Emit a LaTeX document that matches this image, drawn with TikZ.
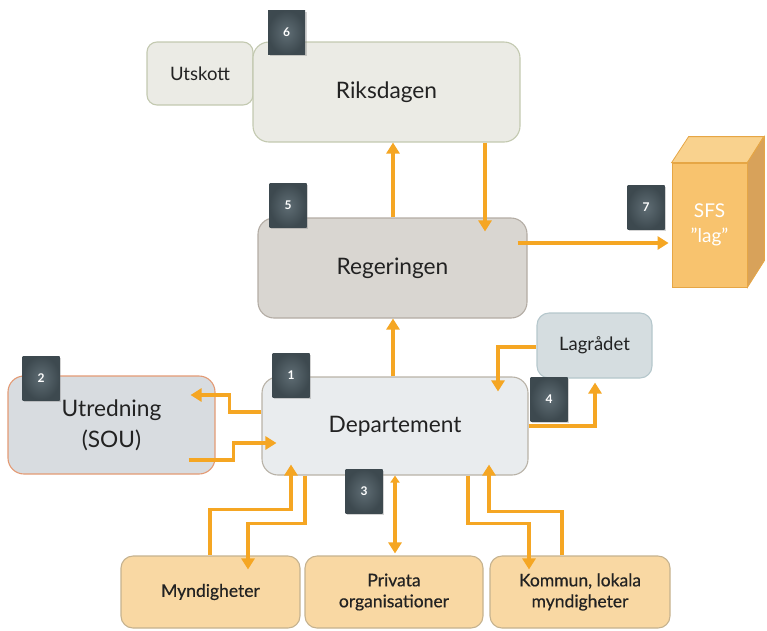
\documentclass[tikz,border=0pt]{standalone}
\usepackage{fontspec}
\setmainfont{Lato}
\newfontfamily\heavier[FakeBold=0.5]{Lato}
\usetikzlibrary{arrows.meta,calc,shadows}
\definecolor{arrc}{HTML}{F5A623}
\definecolor{bdgin}{HTML}{5F6D74}
\definecolor{bdgout}{HTML}{3D494F}
\definecolor{txt}{HTML}{222222}
\definecolor{riksf}{HTML}{EBEBE5}
\definecolor{riksd}{HTML}{C3C9B0}
\definecolor{regf}{HTML}{D9D6D1}
\definecolor{regd}{HTML}{B3ACA4}
\definecolor{depf}{HTML}{E9ECEE}
\definecolor{depd}{HTML}{B8B2A7}
\definecolor{utrf}{HTML}{D8DCE0}
\definecolor{utrd}{HTML}{E39A74}
\definecolor{lagf}{HTML}{D5DDE0}
\definecolor{lagd}{HTML}{B5C7CC}
\definecolor{botf}{HTML}{F9D8A3}
\definecolor{botd}{HTML}{C5B28F}
\definecolor{cubef}{HTML}{F8C36E}
\definecolor{cubet}{HTML}{F9D28E}
\definecolor{cubes}{HTML}{D8A25A}
\definecolor{cubee}{HTML}{E6A645}
\begin{document}
\begin{tikzpicture}[x=1pt,y=-1pt,
  box/.style={draw, rounded corners=12pt, line width=1.1pt, inner sep=0pt, align=center, text=txt},
  big/.style={font=\fontsize{22.7}{31}\selectfont},
  mid/.style={font=\fontsize{18.5}{21}\selectfont},
  bot/.style={box, fill=botf, draw=botd, minimum height=72pt, font=\heavier\fontsize{17.5}{21}\selectfont},
  badge/.style={inner color=bdgin, outer color=bdgout, minimum width=37pt, minimum height=44pt, inner sep=0pt, text=white,
     font=\bfseries\fontsize{12}{12}\selectfont, drop shadow={opacity=0.35, shadow xshift=1.5pt, shadow yshift=-1.5pt}},
  arr/.style={draw=arrc, line width=3.4pt, -{Triangle[length=11pt,width=13pt]}}
]
\useasboundingbox (0,0) rectangle (767,630);

% boxes
\node[box, mid, fill=riksf, draw=riksd, minimum width=106pt, minimum height=63pt, rounded corners=10pt] (utskott) at (200,73.5) {Utskott};
\node[box, big, fill=riksf, draw=riksd, minimum width=267pt, minimum height=100pt, rounded corners=16pt] (riks) at (386.5,92) {Riksdagen};
\node[box, big, fill=regf, draw=regd, minimum width=269pt, minimum height=100pt, rounded corners=16pt] (reg) at (392.5,268) {Regeringen};
\node[box, big, fill=depf, draw=depd, minimum width=266pt, minimum height=98pt, rounded corners=16pt] (dep) at (395,426) {Departement};
\node[box, big, fill=utrf, draw=utrd, minimum width=207pt, minimum height=98pt, rounded corners=16pt] (utr) at (111.5,425) {Utredning\\(SOU)};
\node[box, mid, fill=lagf, draw=lagd, minimum width=115pt, minimum height=65pt, rounded corners=12pt] (lag) at (594.5,345.5) {Lagrådet};
\node[bot, minimum width=179pt] (mynd) at (210.5,592) {Myndigheter};
\node[bot, minimum width=178pt] (priv) at (394,592) {Privata\\organisationer};
\node[bot, minimum width=180pt] (komm) at (580,592) {Kommun, lokala\\myndigheter};

% cube
\node[fill=cubef, draw=cubee, line width=0.8pt, minimum width=75pt, minimum height=124pt, inner sep=0pt, align=center,
      text=white, font=\fontsize{19}{25}\selectfont] (sfs) at (709.5,225) {SFS\\"lag"};
\filldraw[fill=cubet, draw=cubee, line width=0.8pt] (sfs.north west) -- ++(17,-26) -- ++(75,0) -- (sfs.north east) -- cycle;
\filldraw[fill=cubes, draw=cubee, line width=0.8pt] (sfs.north east) -- ++(17,-26) -- ++(0,124) -- (sfs.south east) -- cycle;

% connectors
\draw[arr] (reg.north -| 393,0) -- (riks.south -| 393,0);
\draw[arr] (riks.south -| 485,0) -- ($(reg.north -| 485,0)+(0,14)$);
\draw[arr] ($(reg.east |- 0,243)+(-10,0)$) -- ($(sfs.west |- 0,243)+(-3,0)$);
\draw[arr] (dep.north -| 393,0) -- (reg.south -| 393,0);
\draw[arr] (lag.west |- 0,347) -| ($(dep.north -| 498,0)+(0,15)$);
\draw[arr] (dep.east |- 0,426) -| ($(lag.south -| 595,0)+(0,4)$);
\draw[arr] (dep.west |- 0,412) -- ++(-32,0) |- ($(utr.east |- 0,395)+(-25,0)$);
\draw[arr] ($(utr.east |- 0,460)+(-27,0)$) -- ++(45,0) |- ($(dep.west |- 0,443)+(15,0)$);
\draw[arr] (mynd.north -| 210,0) |- ($(dep.south -| 291,0)+(0,34)$) -- ($(dep.south -| 291,0)+(0,-11)$);
\draw[arr] (dep.south -| 305,0) -- ++(0,48) -| ($(mynd.north -| 248,0)+(0,14)$);
\draw[arr, {Triangle[length=7pt,width=9pt]}-{Triangle[length=11pt,width=13pt]}] (dep.south -| 395,0) -- ($(priv.north -| 395,0)+(0,-2)$);
\draw[arr] (dep.south -| 468,0) -- ++(0,48) -| ($(komm.north -| 529,0)+(0,14)$);
\draw[arr] (komm.north -| 562,0) |- ($(dep.south -| 489,0)+(0,36)$) -- ($(dep.south -| 489,0)+(0,-11)$);

% badges
\node[badge] (b6) at (286.5,32.5) {6};
\node[badge] (b5) at (288,205.5) {5};
\node[badge] (b7) at (646,207.5) {7};
\node[badge] (b4) at (549,399) {4};
\node[badge] (b1) at (291,375) {1};
\node[badge] (b2) at (41,378) {2};
\node[badge] (b3) at (364,491) {3};
\end{tikzpicture}
\end{document}
